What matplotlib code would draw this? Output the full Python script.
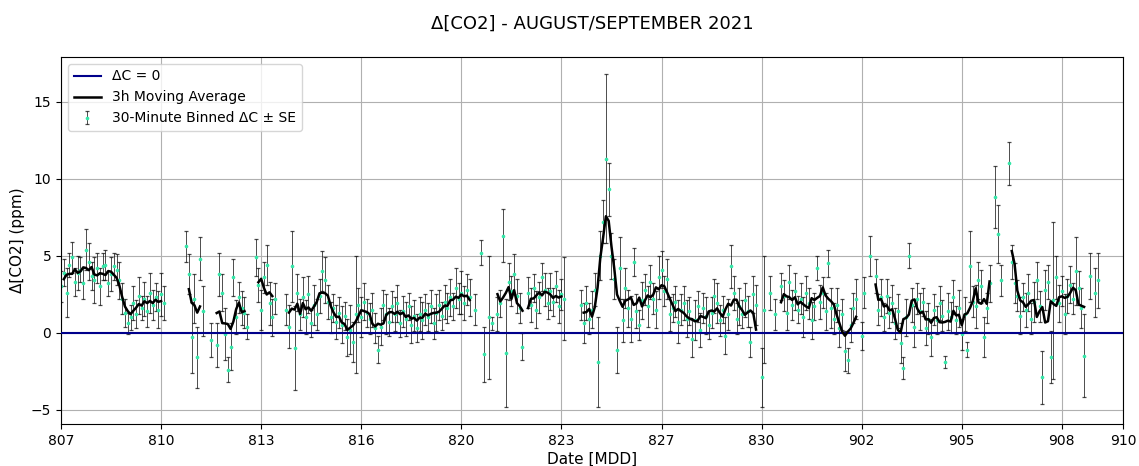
import numpy as np
import pandas as pd
import matplotlib
matplotlib.use("Agg")
import matplotlib.pyplot as plt

nan = np.nan

# 30-minute binned delta CO2 (ppm), one entry per bin, nan = no data
delta_bins = [
    # 807 - 810
    3.0, 3.9, 2.6, 4.4, 4.9, 3.3, 3.9, 4.1, 3.2, 5.4, 4.6, 3.7, 3.4, 4.2, 3.0, 4.3, 4.4, 3.2, 3.8, 4.3,
    4.1, 3.4, 2.2, 1.3, 0.6, 1.0, 1.9, 1.2, 2.4, 1.6, 2.2, 1.4, 2.6, 1.8, 2.3, 1.5, 2.5, 1.9,
    nan, nan, nan, nan, nan, nan, nan,
    5.6, 3.8, -0.3, 2.2, -1.6, 4.8, 1.4,
    nan, nan, -0.5, nan, -0.8,
    3.8, 2.6, -0.1, -2.4, -0.9, 3.6, 1.0, 2.3, 1.6, 1.3, 0.4,
    nan, nan,
    4.9, 3.1, 1.5, 3.6, 4.4, 1.9, 1.0, 2.2,
    nan, nan, nan,
    # 813 - 820
    1.5, 0.4, 4.3, -1.0, 2.6, 1.2, 2.3, 1.0, 2.5, 0.6, 1.8, 1.2, 2.4, 4.0, 3.4, 2.0, 1.0, 1.6, 0.7, 1.3,
    0.5, 1.1, -0.3, 0.2, -0.6, 1.2, 1.8, 1.0, 2.0, 1.3, 0.9, 1.5, 0.3, -1.1, 0.4, 1.8, 1.2, 0.7, 1.7, 1.2,
    1.9, 0.6, 1.4, 0.9, 1.7, 0.5, 1.1, 0.3, 1.2, 0.8, 1.5, 1.0, 1.7, 0.6, 1.3, 1.8, 1.1, 2.0, 1.6, 2.3,
    1.7, 2.9, 2.2, 2.6, 1.9, 2.8, 2.3,
    nan,
    1.5, nan, 5.2, -1.4, nan, 1.0, 0.6, nan,
    1.2, 1.9, 6.3, -1.3, 3.3, 2.7, 3.8, 2.4, 1.6, -0.9,
    nan,
    2.6, 1.8, 2.9, 1.5, 2.3, 3.6, 2.8, 1.9, 2.7, 2.0, 3.0, 1.7, 2.5, 2.2,
    nan, nan, nan, nan, nan,
    # 823 - 830
    1.8, 0.6, 1.9, 0.9, 1.5, 2.8, -1.9, 5.0, 7.2, 11.3, 9.3, 5.0, 3.5, -1.1, 4.2, 0.8, 2.9, 1.6, 0.9, 4.6,
    1.4, 0.5, 2.1, 2.8, 1.7, 3.3, 2.2, 1.5, 3.6, 4.1, 2.7, 3.5, 1.2, 1.6, 2.0, 0.7, 1.5, 1.9, 0.9, 1.4,
    -0.4, 0.8, 1.7, 0.2, 1.6, 1.1, 0.5, 1.3, 2.4, 1.9, 0.8, 1.5, -0.2, 1.2, 4.3, 2.6, 0.9, 1.7, 1.2, 2.1,
    1.4, -0.6, 2.5, 1.8,
    nan, -2.9, 1.5, nan, 2.6, nan, 1.2, nan, 3.0,
    2.4, 1.3, 3.3, 1.8, 2.7, 1.5, 2.2, 1.0, 2.6, 1.9, 0.8, 1.7, 4.2, 2.0, 2.6, 1.4, 4.5, 1.6, 0.9, 1.8,
    0.3, 1.2, -1.2, -1.8, 0.5, 1.6, 2.2,
    nan, -0.2, 2.6, nan, 5.0, nan,
    # 902 - 910
    3.7, 1.5, 2.3, 1.0, 2.4, 1.3, 1.9, 0.6, 1.4, -0.7, -2.3, 1.0, 5.0, 1.8, 0.4, 2.2, 1.4, 2.0, 0.3, 0.9,
    -0.3, 1.5, 0.8, 1.9, 1.1, -1.9, 1.4, 1.0, 2.3, 0.8, 1.6, -0.1, 1.2, -1.1, 4.3, 2.0, 1.7, 3.4, 3.0, -0.3,
    1.6, 3.2,
    nan, 8.8, 6.4, 3.4, nan, nan, 11.0,
    4.6, 3.2, 2.4, 1.1, 2.3, 1.5, 2.6, 0.9, 2.0, 3.4, 1.7, -2.9, 2.8, 3.3, -1.6, 2.1, 3.6, 1.9, 2.7, 1.2,
    2.4, 3.1, 2.2, 4.0, 2.9, 1.6,
    -1.5, nan, 3.7, nan, 2.6, 3.4,
]

# standard error of each bin (ppm)
se_bins = [
    1.0, 0.9, 1.6, 0.8, 1.0, 0.9, 1.1, 0.8, 1.0, 1.3, 1.2, 0.9, 1.5, 1.0, 1.2, 0.9, 1.0, 0.8, 1.1, 0.9,
    1.0, 1.2, 1.0, 0.9, 0.7, 0.8, 1.1, 0.9, 1.2, 0.8, 1.1, 1.0, 1.3, 1.0, 0.9, 1.2, 1.4, 1.1,
    nan, nan, nan, nan, nan, nan, nan,
    1.0, 1.3, 2.3, 1.6, 2.0, 1.4, 1.6,
    nan, nan, 1.1, nan, 1.4,
    1.4, 1.2, 1.7, 0.8, 1.5, 1.2, 1.1, 1.0, 1.1, 1.0, 0.8,
    nan, nan,
    1.2, 1.1, 1.3, 1.0, 1.3, 1.4, 1.2, 1.0,
    nan, nan, nan,
    1.0, 1.4, 2.3, 2.7, 1.2, 1.0, 1.3, 1.1, 1.2, 0.9, 1.3, 1.0, 1.1, 1.3, 1.5, 1.1, 1.0, 0.9, 1.1, 1.0,
    1.2, 0.9, 1.2, 1.6, 1.3, 3.8, 1.1, 1.3, 1.2, 0.9, 1.0, 1.1, 1.0, 0.9, 1.2, 1.0, 1.3, 0.9, 1.0, 1.1,
    1.2, 0.9, 1.0, 1.1, 0.9, 1.2, 1.0, 0.9, 1.1, 1.2, 1.0, 0.9, 1.1, 1.0, 1.2, 1.0, 0.9, 1.1, 1.0, 1.2,
    0.9, 1.3, 1.0, 1.4, 1.1, 1.0, 1.2,
    nan,
    1.0, nan, 0.8, 1.8, nan, 4.0, 0.4, nan,
    1.1, 0.9, 1.7, 3.5, 1.2, 1.0, 1.3, 1.1, 1.0, 0.9,
    nan,
    1.0, 1.1, 0.9, 1.2, 1.0, 0.9, 1.1, 1.0, 1.2, 0.9, 1.0, 1.1, 1.0, 2.7,
    nan, nan, nan, nan, nan,
    1.0, 1.3, 1.1, 1.0, 1.2, 1.1, 2.9, 1.6, 1.4, 5.5, 1.7, 1.5, 1.3, 1.5, 2.0, 1.4, 1.3, 1.2, 1.5, 0.9,
    1.1, 1.0, 1.2, 1.0, 1.3, 1.1, 1.0, 1.2, 1.4, 1.2, 1.0, 1.3, 1.1, 0.9, 1.0, 1.4, 1.0, 1.1, 1.2, 0.9,
    1.2, 1.3, 1.0, 1.1, 1.0, 1.2, 0.9, 1.0, 1.1, 1.3, 1.0, 0.9, 1.2, 1.0, 1.4, 1.1, 1.0, 1.2, 0.9, 1.1,
    1.0, 1.0, 1.2, 1.3,
    nan, 1.9, 3.5, nan, 1.1, nan, 1.0, nan, 0.9,
    1.0, 1.1, 1.1, 1.0, 1.2, 0.9, 1.0, 1.3, 1.1, 1.0, 1.2, 0.9, 0.8, 1.1, 1.0, 1.2, 0.9, 1.3, 1.0, 1.1,
    1.2, 1.0, 1.3, 0.8, 1.1, 1.0, 1.3,
    nan, 0.9, 1.0, nan, 1.3, nan,
    1.1, 1.0, 1.2, 0.9, 1.1, 1.0, 1.2, 1.0, 1.1, 1.3, 0.7, 1.2, 0.8, 1.1, 1.3, 1.0, 1.2, 0.9, 1.1, 1.0,
    1.2, 1.0, 0.9, 1.1, 1.0, 0.4, 1.2, 1.0, 1.1, 0.9, 1.2, 1.0, 1.1, 0.5, 2.3, 1.0, 1.4, 1.2, 1.1, 1.3,
    1.0, 1.2,
    nan, 2.0, 1.9, 1.0, nan, nan, 1.4,
    1.1, 1.3, 1.0, 1.2, 0.9, 1.1, 1.2, 1.0, 1.3, 1.2, 1.0, 1.7, 1.3, 1.1, 1.7, 5.1, 1.4, 1.2, 1.0, 1.3,
    1.1, 1.2, 1.0, 2.2, 1.1, 1.3,
    2.7, nan, 1.5, nan, 1.6, 1.8,
]

tick_labels = ["807", "810", "813", "816", "820", "823", "827", "830", "902", "905", "908", "910"]
tick_bins = [0, 36, 72, 108, 144, 180, 216, 252, 288, 324, 360, 382]

delta = np.array(delta_bins, dtype=float)
se = np.array(se_bins, dtype=float)
t = np.arange(len(delta))

# moving average over neighbouring bins, not bridged across gaps
ma = pd.Series(delta).rolling(5, center=True, min_periods=4).mean().to_numpy()
ma[np.isnan(delta)] = np.nan

fig = plt.figure(figsize=(11.39, 4.66), dpi=100)
ax = fig.add_axes([61 / 1139, 1 - 424.3 / 466, 1062 / 1139, 367.3 / 466])

h_zero = ax.axhline(0, color="darkblue", lw=1.5, label="\u0394C = 0", zorder=3)
h_bins = ax.errorbar(t, delta, yerr=se, fmt="o", ms=1.6, color="#35e6a8",
                     ecolor=(0, 0, 0, 0.7), elinewidth=0.7, capsize=1.6, capthick=0.9,
                     label="30-Minute Binned \u0394C \u00b1 SE", zorder=2)
h_ma, = ax.plot(t, ma, color="black", lw=1.8, label="3h Moving Average", zorder=4)

ax.set_xlim(0, 382)
ax.set_ylim(-5.95, 17.9)
ax.set_xticks(tick_bins)
ax.set_xticklabels(tick_labels)
ax.set_yticks([-5, 0, 5, 10, 15])
ax.tick_params(labelsize=10)
ax.grid(True, color="#b0b0b0", lw=0.8)
ax.set_axisbelow(True)

ax.set_xlabel("Date [MDD]", fontsize=11, labelpad=3)
ax.set_ylabel("\u0394[CO2] (ppm)", fontsize=11)
ax.set_title("\u0394[CO2] - AUGUST/SEPTEMBER 2021", fontsize=13, pad=20)

ax.legend(handles=[h_zero, h_ma, h_bins], loc="upper left", fontsize=10)

fig.savefig("out.png", dpi=100)
